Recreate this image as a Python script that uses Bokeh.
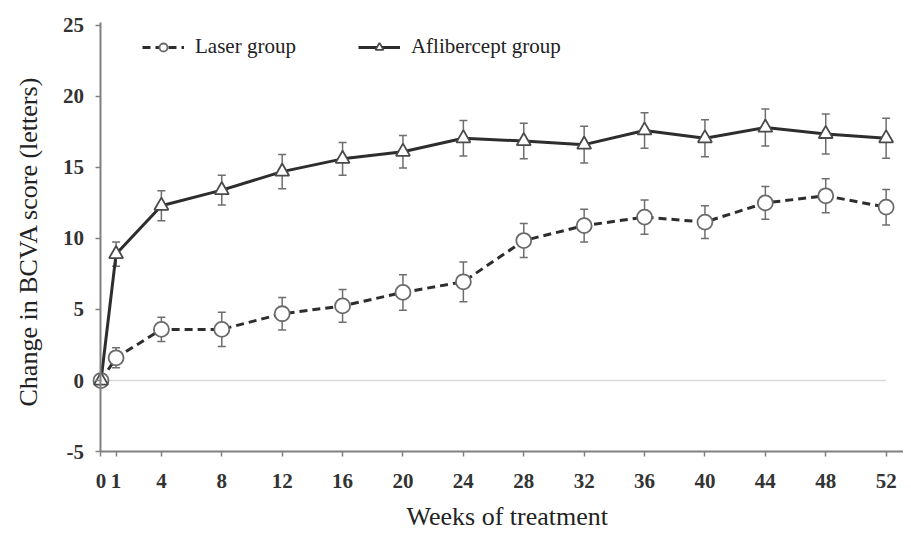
from bokeh.plotting import figure
from bokeh.models import (ColumnDataSource, Whisker, TeeHead, Legend, LegendItem,
                          FixedTicker, Range1d, Title)
from bokeh.embed import file_html
from bokeh.resources import INLINE

# ---- data ----
weeks = [0, 1, 4, 8, 12, 16, 20, 24, 28, 32, 36, 40, 44, 48, 52]
laser_mean = [0, 1.6, 3.6, 3.6, 4.7, 5.25, 6.2, 6.95, 9.85, 10.9, 11.5, 11.15, 12.5, 13.0, 12.2]
laser_err = [0, 0.7, 0.85, 1.2, 1.15, 1.15, 1.25, 1.4, 1.2, 1.15, 1.2, 1.15, 1.15, 1.2, 1.25]
aflib_mean = [0, 8.9, 12.3, 13.4, 14.7, 15.6, 16.1, 17.05, 16.85, 16.6, 17.6, 17.05, 17.8, 17.35, 17.05]
aflib_err = [0, 0.85, 1.05, 1.05, 1.2, 1.15, 1.15, 1.25, 1.25, 1.3, 1.25, 1.3, 1.3, 1.4, 1.4]
y_ticks = [-5, 0, 5, 10, 15, 20, 25]
series_names = ["Laser group", "Aflibercept group"]
x_label = "Weeks of treatment"
y_label = "Change in BCVA score (letters)"

SERIF = "Liberation Serif"
X_START, X_END = -3.675, 53.15
Y_START, Y_END = -8.371, 26.18
Y_BOTTOM, Y_TOP = -5, 25.2


def src(mean, err, skip_first=False):
    i0 = 1 if skip_first else 0
    return ColumnDataSource(dict(
        x=weeks[i0:], y=mean[i0:],
        lower=[m - e for m, e in zip(mean[i0:], err[i0:])],
        upper=[m + e for m, e in zip(mean[i0:], err[i0:])],
    ))


laser = src(laser_mean, laser_err)
aflib = src(aflib_mean, aflib_err)
laser_w = src(laser_mean, laser_err, True)
aflib_w = src(aflib_mean, aflib_err, True)

p = figure(width=903, height=530, output_backend="svg", toolbar_location=None,
           x_range=Range1d(X_START, X_END), y_range=Range1d(Y_START, Y_END),
           min_border_left=45, min_border_right=0, min_border_top=8, min_border_bottom=30)
p.outline_line_color = None
p.xgrid.visible = False
p.ygrid.visible = False
p.background_fill_color = "white"
p.border_fill_color = "white"

for ax in (p.xaxis[0], p.yaxis[0]):
    ax.axis_line_color = "#808080"
    ax.axis_line_width = 2
    ax.major_tick_line_color = "#808080"
    ax.major_tick_line_width = 1.5
    ax.major_tick_in = 0
    ax.major_tick_out = 5
    ax.minor_tick_line_color = None
    ax.major_label_text_font = SERIF
    ax.major_label_text_font_style = "bold"
    ax.major_label_text_font_size = "21px"
    ax.major_label_text_color = "#333333"

p.xaxis.ticker = FixedTicker(ticks=weeks)
p.yaxis.ticker = FixedTicker(ticks=y_ticks)
p.yaxis.major_label_overrides = {t: str(t) for t in y_ticks}
p.xaxis.major_label_standoff = 17
p.yaxis.major_label_standoff = 12
p.yaxis.fixed_location = weeks[0]
p.xaxis.fixed_location = Y_BOTTOM
p.yaxis.bounds = (Y_BOTTOM, Y_TOP)
p.xaxis.bounds = (weeks[0], X_END)

p.add_layout(Title(text=y_label, align="left", offset=93, vertical_align="bottom", standoff=6,
                   text_font=SERIF, text_font_size="26px", text_font_style="normal",
                   text_color="#222222"), "left")
p.add_layout(Title(text=x_label, align="left", offset=361, vertical_align="bottom", standoff=0,
                   text_font=SERIF, text_font_size="26px", text_font_style="normal",
                   text_color="#222222"), "below")

# zero reference line
p.segment(x0=[weeks[0]], y0=[0], x1=[weeks[-1]], y1=[0], line_color="#d9d9d9", line_width=1.5)

# error bars
for s in (laser_w, aflib_w):
    w = Whisker(source=s, base="x", upper="upper", lower="lower", dimension="height",
                line_color="#6e6e6e", line_width=1.5, level="underlay",
                upper_head=TeeHead(size=8, line_color="#6e6e6e", line_width=1.5),
                lower_head=TeeHead(size=8, line_color="#6e6e6e", line_width=1.5))
    p.add_layout(w)

laser_line = p.line("x", "y", source=laser, line_color="#2d2d2d", line_width=3, line_dash="8 5")
aflib_line = p.line("x", "y", source=aflib, line_color="#2d2d2d", line_width=3)
laser_pts = p.scatter("x", "y", source=laser, marker="circle", size=15, fill_color="white",
                      line_color="#6a6a6a", line_width=1.8)
aflib_pts = p.scatter("x", "y", source=aflib, marker="triangle", size=14, fill_color="white",
                      line_color="#4a4a4a", line_width=1.8)

legend = Legend(items=[LegendItem(label=series_names[0], renderers=[laser_line, laser_pts]),
                       LegendItem(label=series_names[1], renderers=[aflib_line, aflib_pts])],
                orientation="horizontal", location=(97, 440), border_line_color=None,
                background_fill_alpha=0, padding=0, margin=0, spacing=62, label_standoff=11,
                glyph_width=42, glyph_height=20, label_height=20,
                label_text_font=SERIF, label_text_font_size="21px", label_text_color="#222222")
p.add_layout(legend)

open("out.html", "w").write(file_html(p, INLINE))
